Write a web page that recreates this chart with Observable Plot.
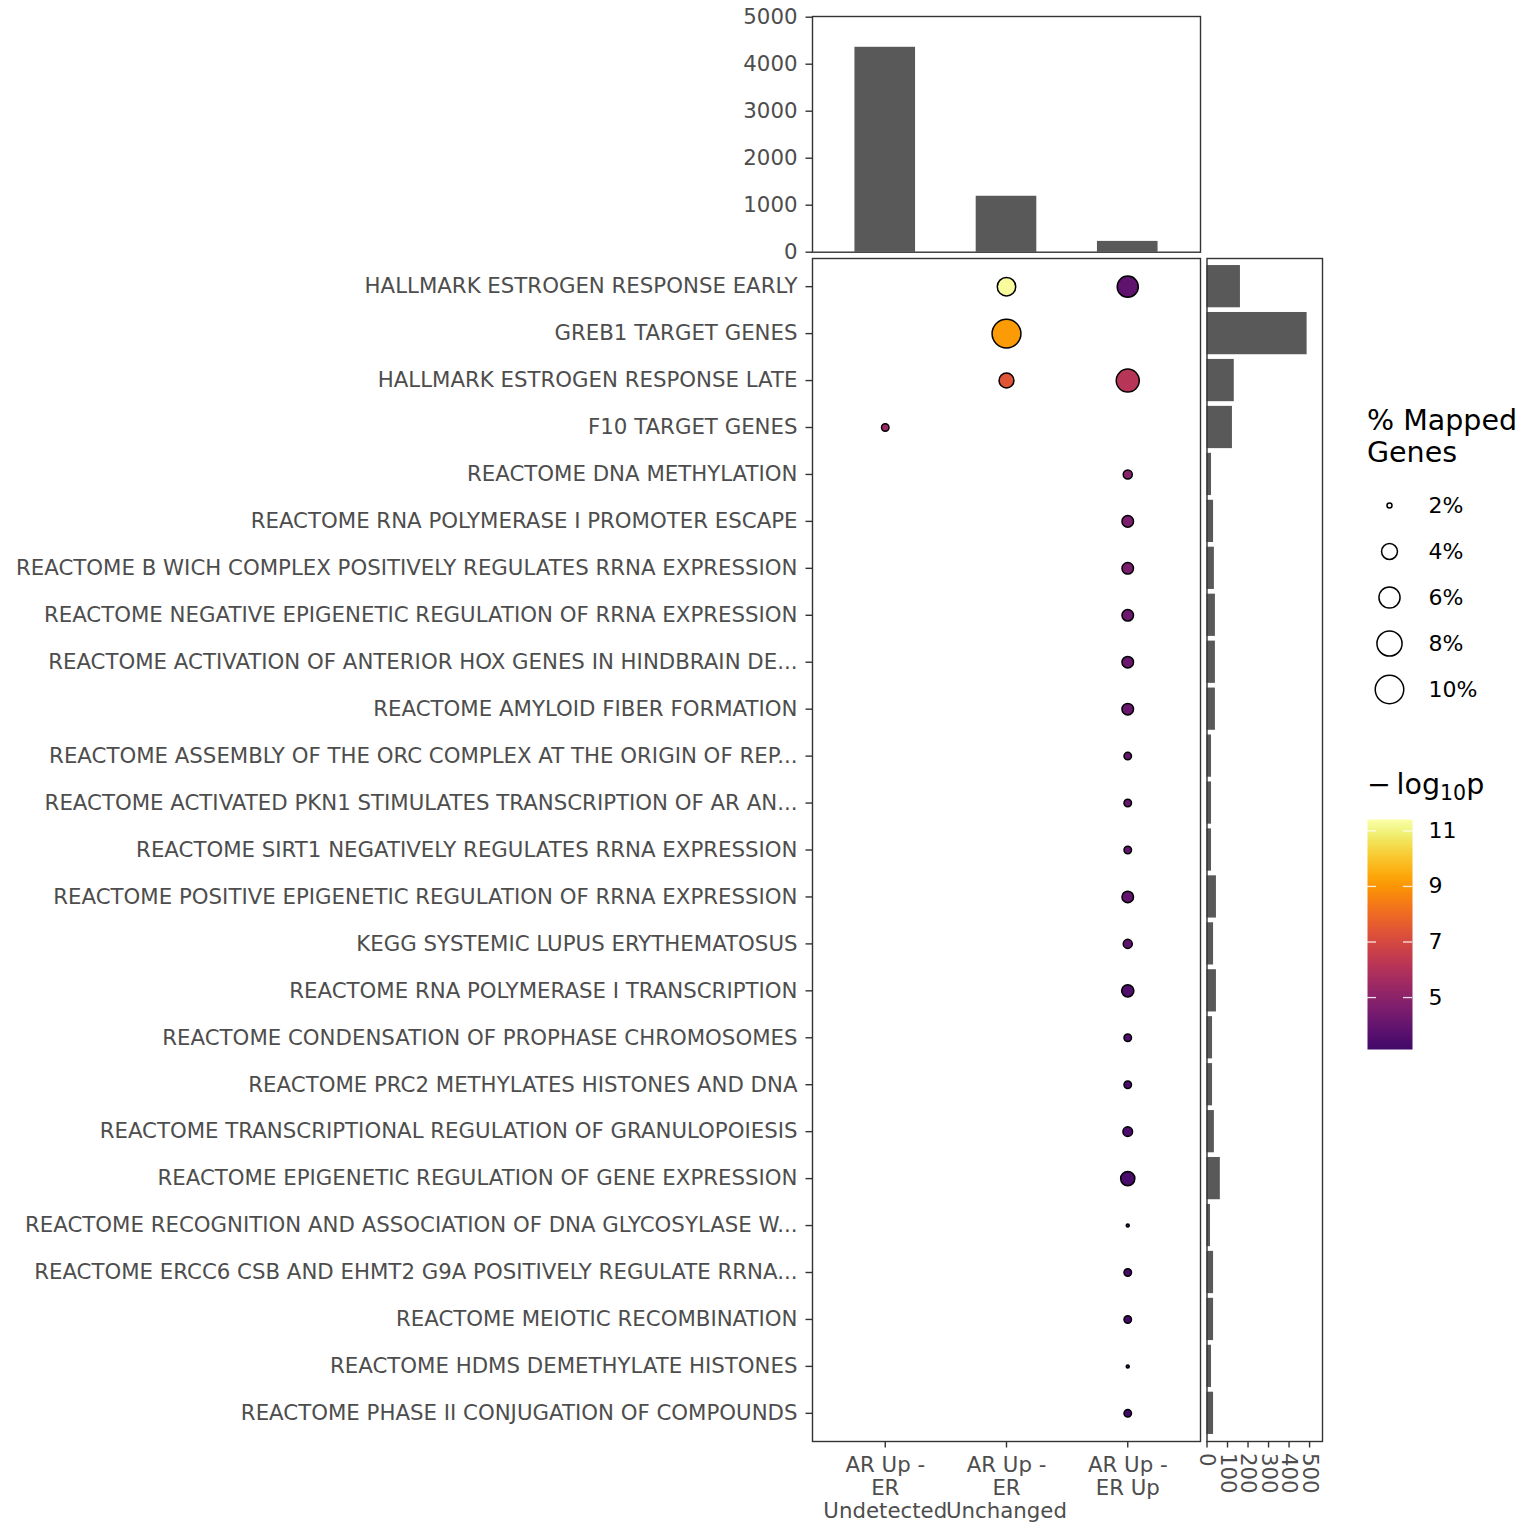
<!DOCTYPE html>
<html><head><meta charset="utf-8">
<script src="https://cdn.jsdelivr.net/npm/d3@7"></script>
<script src="https://cdn.jsdelivr.net/npm/@observablehq/plot@0.6"></script>
<style>
body{margin:0;background:#fff;}
#chart{position:relative;width:1536px;height:1536px;background:#fff;font-family:"DejaVu Sans";overflow:hidden;}
#chart > *{position:absolute;}
.ltitle{font-size:28.5px;line-height:32px;color:#000;white-space:nowrap;}
</style></head><body><div id="chart"></div>
<script>
// ---- data ----
const pathways = [
  "HALLMARK ESTROGEN RESPONSE EARLY",
  "GREB1 TARGET GENES",
  "HALLMARK ESTROGEN RESPONSE LATE",
  "F10 TARGET GENES",
  "REACTOME DNA METHYLATION",
  "REACTOME RNA POLYMERASE I PROMOTER ESCAPE",
  "REACTOME B WICH COMPLEX POSITIVELY REGULATES RRNA EXPRESSION",
  "REACTOME NEGATIVE EPIGENETIC REGULATION OF RRNA EXPRESSION",
  "REACTOME ACTIVATION OF ANTERIOR HOX GENES IN HINDBRAIN DE...",
  "REACTOME AMYLOID FIBER FORMATION",
  "REACTOME ASSEMBLY OF THE ORC COMPLEX AT THE ORIGIN OF REP...",
  "REACTOME ACTIVATED PKN1 STIMULATES TRANSCRIPTION OF AR AN...",
  "REACTOME SIRT1 NEGATIVELY REGULATES RRNA EXPRESSION",
  "REACTOME POSITIVE EPIGENETIC REGULATION OF RRNA EXPRESSION",
  "KEGG SYSTEMIC LUPUS ERYTHEMATOSUS",
  "REACTOME RNA POLYMERASE I TRANSCRIPTION",
  "REACTOME CONDENSATION OF PROPHASE CHROMOSOMES",
  "REACTOME PRC2 METHYLATES HISTONES AND DNA",
  "REACTOME TRANSCRIPTIONAL REGULATION OF GRANULOPOIESIS",
  "REACTOME EPIGENETIC REGULATION OF GENE EXPRESSION",
  "REACTOME RECOGNITION AND ASSOCIATION OF DNA GLYCOSYLASE W...",
  "REACTOME ERCC6 CSB AND EHMT2 G9A POSITIVELY REGULATE RRNA...",
  "REACTOME MEIOTIC RECOMBINATION",
  "REACTOME HDMS DEMETHYLATE HISTONES",
  "REACTOME PHASE II CONJUGATION OF COMPOUNDS"
];
const pathwaySizes = [163, 488, 133, 124, 22, 32, 36, 41, 41, 41, 22, 22, 22, 46, 32, 46, 27, 27, 36, 65, 17, 32, 32, 22, 32];

const groups = ["AR Up - ER Undetected", "AR Up - ER Unchanged", "AR Up - ER Up"];
const groupLabels = ["AR Up -\nER\nUndetected", "AR Up -\nER\nUnchanged", "AR Up -\nER Up"];
const groupTotals = [4360, 1190, 230];

const dotPathway = [
  "HALLMARK ESTROGEN RESPONSE EARLY", "HALLMARK ESTROGEN RESPONSE EARLY",
  "GREB1 TARGET GENES",
  "HALLMARK ESTROGEN RESPONSE LATE", "HALLMARK ESTROGEN RESPONSE LATE",
  "F10 TARGET GENES",
  "REACTOME DNA METHYLATION",
  "REACTOME RNA POLYMERASE I PROMOTER ESCAPE",
  "REACTOME B WICH COMPLEX POSITIVELY REGULATES RRNA EXPRESSION",
  "REACTOME NEGATIVE EPIGENETIC REGULATION OF RRNA EXPRESSION",
  "REACTOME ACTIVATION OF ANTERIOR HOX GENES IN HINDBRAIN DE...",
  "REACTOME AMYLOID FIBER FORMATION",
  "REACTOME ASSEMBLY OF THE ORC COMPLEX AT THE ORIGIN OF REP...",
  "REACTOME ACTIVATED PKN1 STIMULATES TRANSCRIPTION OF AR AN...",
  "REACTOME SIRT1 NEGATIVELY REGULATES RRNA EXPRESSION",
  "REACTOME POSITIVE EPIGENETIC REGULATION OF RRNA EXPRESSION",
  "KEGG SYSTEMIC LUPUS ERYTHEMATOSUS",
  "REACTOME RNA POLYMERASE I TRANSCRIPTION",
  "REACTOME CONDENSATION OF PROPHASE CHROMOSOMES",
  "REACTOME PRC2 METHYLATES HISTONES AND DNA",
  "REACTOME TRANSCRIPTIONAL REGULATION OF GRANULOPOIESIS",
  "REACTOME EPIGENETIC REGULATION OF GENE EXPRESSION",
  "REACTOME RECOGNITION AND ASSOCIATION OF DNA GLYCOSYLASE W...",
  "REACTOME ERCC6 CSB AND EHMT2 G9A POSITIVELY REGULATE RRNA...",
  "REACTOME MEIOTIC RECOMBINATION",
  "REACTOME HDMS DEMETHYLATE HISTONES",
  "REACTOME PHASE II CONJUGATION OF COMPOUNDS"
];
const dotGroup = [
  "AR Up - ER Unchanged", "AR Up - ER Up",
  "AR Up - ER Unchanged",
  "AR Up - ER Unchanged", "AR Up - ER Up",
  "AR Up - ER Undetected",
  "AR Up - ER Up", "AR Up - ER Up", "AR Up - ER Up", "AR Up - ER Up", "AR Up - ER Up",
  "AR Up - ER Up", "AR Up - ER Up", "AR Up - ER Up", "AR Up - ER Up", "AR Up - ER Up",
  "AR Up - ER Up", "AR Up - ER Up", "AR Up - ER Up", "AR Up - ER Up", "AR Up - ER Up",
  "AR Up - ER Up", "AR Up - ER Up", "AR Up - ER Up", "AR Up - ER Up", "AR Up - ER Up",
  "AR Up - ER Up"
];
const dotPctMapped = [4.9, 6.0, 10.2, 3.7, 6.9, 2.2, 2.4, 2.85, 2.85, 2.85, 2.85, 2.85, 2.2, 2.2, 2.2, 2.85, 2.4, 3.0, 2.2, 2.2, 2.5, 3.5, 1.95, 2.2, 2.2, 1.95, 2.2];
const dotNegLog10P = [11.3, 3.88, 9.13, 7.38, 6.15, 5.43, 4.91, 4.6, 4.55, 4.19, 4.15, 4.1, 4.0, 4.0, 3.95, 3.9, 3.8, 3.47, 3.45, 3.4, 3.4, 3.35, 3.3, 3.25, 3.22, 3.2, 3.16];

const sizeBreaks = [2, 4, 6, 8, 10];
const colorTicks = [5, 7, 9, 11];
const topTicks = [0, 1000, 2000, 3000, 4000, 5000];
const rightTicks = [0, 100, 200, 300, 400, 500];

// ---- derived tables ----
const dots = dotPathway.map((p, i) => ({pathway: p, group: dotGroup[i], pct: dotPctMapped[i], logp: dotNegLog10P[i]}));
const groupBars = groups.map((g, i) => ({group: g, n: groupTotals[i]}));
const pathBars = pathways.map((p, i) => ({pathway: p, n: pathwaySizes[i]}));

const PCT_MIN = 1.95, PCT_MAX = 10.5;
const rScale = {type: "sqrt", domain: [0, PCT_MAX - PCT_MIN], range: [1.5, 14.66]};
const CMIN = 3.13, CMAX = 11.41;
const colorScale = {type: "linear", domain: [CMIN, CMAX], interpolate: t => d3.interpolateInferno(0.2 + 0.8 * t)};

const AXC = "#333333", TXC = "#4d4d4d";
const baseStyle = {fontFamily: "DejaVu Sans", fontSize: "21.3px", background: "transparent", overflow: "visible"};
const chart = document.getElementById("chart");
function place(el, left, top) { el.style.left = left + "px"; el.style.top = top + "px"; chart.appendChild(el); }

// ---- top bar chart ----
const topPlot = Plot.plot({
  width: 1208, height: 258, marginLeft: 812, marginRight: 8, marginTop: 15, marginBottom: 7.3,
  style: baseStyle,
  x: {type: "band", domain: groups, paddingInner: 0.5, paddingOuter: 0.35, round: false, axis: null},
  y: {domain: [0, 5015]},
  marks: [
    Plot.barY(groupBars, {x: "group", y: "n", fill: "#595959"}),
    Plot.frame({stroke: AXC, strokeWidth: 1.4}),
    Plot.axisY({ticks: topTicks, tickSize: 6.5, tickPadding: 8.5, stroke: AXC, fill: TXC, strokeWidth: 1.4, label: null, tickFormat: d => String(d)})
  ]
});
place(topPlot, 0, 1);

// ---- main dot plot ----
const mainPlot = Plot.plot({
  width: 1208, height: 1286, marginLeft: 812, marginRight: 8, marginTop: 8, marginBottom: 95,
  style: baseStyle,
  x: {type: "point", domain: groups, padding: 0.6, round: false},
  y: {type: "point", domain: pathways, padding: 0.6, round: false},
  r: rScale,
  color: colorScale,
  marks: [
    Plot.frame({stroke: AXC, strokeWidth: 1.4}),
    Plot.axisY({tickSize: 6.5, tickPadding: 8.5, stroke: AXC, fill: TXC, strokeWidth: 1.4, label: null}),
    Plot.axisX({tickSize: 6.5, tickPadding: 8, stroke: AXC, fill: TXC, strokeWidth: 1.4, label: null, lineHeight: 1.08,
      tickFormat: g => groupLabels[groups.indexOf(g)]}),
    Plot.dot(dots, {x: "group", y: "pathway", r: d => d.pct - PCT_MIN, fill: "logp", stroke: "black", strokeWidth: 1.5})
  ]
});
place(mainPlot, 0, 250);

// ---- right bar chart ----
const rightPlot = Plot.plot({
  width: 132, height: 1286, marginLeft: 6.5, marginRight: 10, marginTop: 8, marginBottom: 95,
  style: baseStyle,
  x: {domain: [0, 563]},
  y: {type: "band", domain: pathways, paddingInner: 0.1, paddingOuter: 0.15, round: false, axis: null},
  marks: [
    Plot.barX(pathBars, {y: "pathway", x: "n", fill: "#595959"}),
    Plot.frame({stroke: AXC, strokeWidth: 1.4}),
    Plot.axisX({ticks: rightTicks, tickSize: 6.5, tickPadding: 5, tickRotate: 90, stroke: AXC, fill: TXC, strokeWidth: 1.4, label: null, tickFormat: d => String(d)})
  ]
});
place(rightPlot, 1200, 250);

// ---- size legend ----
const sizeTitle = document.createElement("div");
sizeTitle.className = "ltitle";
sizeTitle.innerHTML = "% Mapped<br>Genes";
place(sizeTitle, 1367, 405);

const sizeLegend = Plot.plot({
  width: 180, height: 230, marginLeft: 49, marginRight: 100, marginTop: 25, marginBottom: 21,
  style: {...baseStyle, fontSize: "22px"},
  y: {type: "point", domain: sizeBreaks, padding: 0, round: false, axis: null},
  x: {axis: null},
  r: rScale,
  marks: [
    Plot.dot(sizeBreaks, {y: d => d, r: d => d - PCT_MIN, frameAnchor: "left", stroke: "black", fill: "white", strokeWidth: 1.5}),
    Plot.text(sizeBreaks, {y: d => d, text: d => d + "%", frameAnchor: "left", dx: 39, textAnchor: "start", fill: "black"})
  ]
});
place(sizeLegend, 1340, 480);

// ---- color legend ----
const colorTitle = document.createElement("div");
colorTitle.className = "ltitle";
colorTitle.innerHTML = "\u2212\u2009log<sub style=\"font-size:0.72em;vertical-align:-0.28em;line-height:0\">10</sub>p";
place(colorTitle, 1367, 769);

const colorLegend = Plot.plot({
  width: 150, height: 270, marginLeft: 27, marginRight: 78, marginTop: 19, marginBottom: 21,
  style: {...baseStyle, fontSize: "22px"},
  x: {domain: [0, 1], axis: null},
  y: {domain: [CMIN, CMAX], axis: null},
  color: colorScale,
  marks: [
    Plot.raster({x1: 0, x2: 1, y1: CMIN, y2: CMAX, width: 1, height: 230, fill: (x, y) => y, imageRendering: "auto"}),
    Plot.tickY(colorTicks, {y: d => d, stroke: "white", strokeOpacity: 0.85, strokeWidth: 1.3, insetRight: 36}),
    Plot.tickY(colorTicks, {y: d => d, stroke: "white", strokeOpacity: 0.85, strokeWidth: 1.3, insetLeft: 36}),
    Plot.axisY({anchor: "right", ticks: colorTicks, tickSize: 0, tickPadding: 16, fill: "black", label: null, tickFormat: d => String(d)})
  ]
});
place(colorLegend, 1340, 800);
</script></body></html>
